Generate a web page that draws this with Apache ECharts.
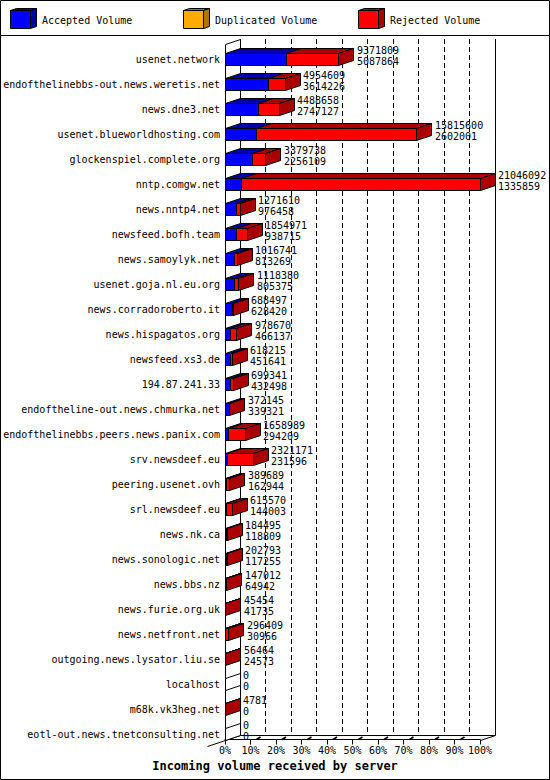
<!DOCTYPE html>
<html><head><meta charset="utf-8">
<script src="https://cdn.jsdelivr.net/npm/echarts@6/dist/echarts.min.js"></script>
<style>html,body{margin:0;padding:0;background:#fff}#c{width:550px;height:780px}</style>
</head><body><div id="c"></div>
<script>
const categories = [
  'usenet.network',
  'endofthelinebbs-out.news.weretis.net',
  'news.dne3.net',
  'usenet.blueworldhosting.com',
  'glockenspiel.complete.org',
  'nntp.comgw.net',
  'news.nntp4.net',
  'newsfeed.bofh.team',
  'news.samoylyk.net',
  'usenet.goja.nl.eu.org',
  'news.corradoroberto.it',
  'news.hispagatos.org',
  'newsfeed.xs3.de',
  '194.87.241.33',
  'endoftheline-out.news.chmurka.net',
  'endofthelinebbs.peers.news.panix.com',
  'srv.newsdeef.eu',
  'peering.usenet.ovh',
  'srl.newsdeef.eu',
  'news.nk.ca',
  'news.sonologic.net',
  'news.bbs.nz',
  'news.furie.org.uk',
  'news.netfront.net',
  'outgoing.news.lysator.liu.se',
  'localhost',
  'm68k.vk3heg.net',
  'eotl-out.news.tnetconsulting.net'
];
const totalVolume = [9371809, 4954609, 4488658, 15815600, 3379738, 21046092, 1271610, 1854971, 1016741, 1118380, 688497, 978670, 618215, 699341, 372145, 1658989, 2321171, 389689, 615570, 184495, 202793, 147012, 45454, 296409, 56464, 0, 4781, 0];
const acceptedVolume = [5087864, 3614226, 2747127, 2602001, 2256109, 1335859, 976458, 938715, 813269, 805375, 628420, 466137, 451641, 432498, 339321, 294209, 231596, 162944, 144003, 118809, 117255, 64942, 41735, 30966, 24573, 0, 0, 0];
const duplicatedVolume = [0, 0, 0, 0, 0, 0, 0, 0, 0, 0, 0, 0, 0, 0, 0, 0, 0, 0, 0, 0, 0, 0, 0, 0, 0, 0, 0, 0];
const seriesNames = ['Accepted Volume', 'Duplicated Volume', 'Rejected Volume'];
const tickLabels = ['0%', '10%', '20%', '30%', '40%', '50%', '60%', '70%', '80%', '90%', '100%'];
const axisTitle = 'Incoming volume received by server';

const FONT = '"DejaVu Sans Mono", monospace';
const maxTotal = Math.max(...totalVolume);
const pct = v => v / maxTotal * 100;
const colors = { acc: ['#0000ff', '#0000aa'], dup: ['#ffaa00', '#aa7700'], rej: ['#ff0000', '#aa0000'] };

const accData = categories.map((c, i) => [0, pct(acceptedVolume[i]), i, pct(totalVolume[i])]);
const dupData = categories.map((c, i) => [pct(acceptedVolume[i]), pct(acceptedVolume[i] + duplicatedVolume[i]), i, pct(totalVolume[i])]);
const rejData = categories.map((c, i) => [pct(acceptedVolume[i] + duplicatedVolume[i]), pct(totalVolume[i]), i, pct(totalVolume[i])]);
const labelData = categories.map((c, i) => [pct(totalVolume[i]), i, totalVolume[i], acceptedVolume[i]]);

const DX = 15, DY = 5, HALF = 6;
const px = v => Math.round(v - 0.5) + 0.5;

function barRenderer(key, isFirst) {
  return function (params, api) {
    const s = api.value(0), e = api.value(1), idx = api.value(2), tot = api.value(3);
    const a = api.coord([s, idx]), b = api.coord([e, idx]);
    const x0 = px(a[0]), x1 = px(b[0]), y0 = px(a[1] - HALF), y1 = px(a[1] + HALF);
    const front = colors[key][0], dark = colors[key][1];
    const ch = [];
    const w = b[0] - a[0];
    if (w > 1e-6) {
      ch.push({ type: 'polygon', shape: { points: [[x0, y0], [x0 + DX, y0 - DY], [x1 + DX, y0 - DY], [x1, y0]] },
        style: { fill: dark, stroke: '#000', lineWidth: 1 } });
      ch.push({ type: 'rect', shape: { x: x0, y: y0, width: x1 - x0, height: y1 - y0 },
        style: { fill: front, stroke: '#000', lineWidth: 1 } });
    }
    const last = Math.abs(e - tot) < 1e-9 && (w > 1e-6 || (tot === 0 && isFirst));
    if (last) {
      ch.push({ type: 'polygon', shape: { points: [[x1, y0], [x1 + DX, y0 - DY], [x1 + DX, y1 - DY], [x1, y1]] },
        style: { fill: tot === 0 ? '#fff' : dark, stroke: '#000', lineWidth: 1 } });
    }
    return { type: 'group', children: ch };
  };
}

function labelRenderer(params, api) {
  const p = api.coord([api.value(0), api.value(1)]);
  const x = Math.round(p[0]) + DX + 3;
  const mk = (txt, y) => ({ type: 'text', x: x, y: y,
    style: { text: txt, fill: '#000', font: '10px ' + FONT, align: 'left', verticalAlign: 'middle', textAlign: 'left', textVerticalAlign: 'middle' } });
  return { type: 'group', children: [mk(String(api.value(2)), p[1] - 9), mk(String(api.value(3)), p[1] + 2)] };
}

const chart = echarts.init(document.getElementById('c'), null, { renderer: 'svg', width: 550, height: 780 });

const option = {
  animation: false,
  backgroundColor: '#fff',
  title: { text: axisTitle, left: 'center', top: 760, padding: 0,
    textStyle: { fontFamily: FONT, fontSize: 12, fontWeight: 'bold', color: '#000' } },
  grid: [
    { left: 225, right: 70, top: 59, bottom: 46 },
    { left: 240, right: 55, top: 39, bottom: 45.5 }
  ],
  xAxis: [
    { type: 'value', gridIndex: 0, min: 0, max: 100, interval: 10, offset: 5.5,
      axisLine: { show: true, lineStyle: { color: '#000', width: 1 } },
      axisTick: { show: true, length: 5, lineStyle: { color: '#000' } },
      axisLabel: { margin: 6, fontFamily: FONT, fontSize: 10, color: '#000', formatter: v => tickLabels[Math.round(v / 10)] },
      splitLine: { show: false } },
    { type: 'value', gridIndex: 1, min: 0, max: 100, interval: 10,
      axisLine: { show: false }, axisTick: { show: false }, axisLabel: { show: false },
      splitLine: { show: true, lineStyle: { color: '#000', width: 1, type: [5, 3] } } }
  ],
  yAxis: [
    { type: 'category', gridIndex: 0, data: categories, inverse: true, boundaryGap: false,
      axisLine: { show: false }, axisTick: { show: false },
      axisLabel: { margin: 5, fontFamily: FONT, fontSize: 10, color: '#000', interval: 0 },
      splitLine: { show: false } },
    { type: 'value', gridIndex: 1, show: false, splitLine: { show: false } }
  ],
  series: [
    { name: seriesNames[0], type: 'custom', xAxisIndex: 0, yAxisIndex: 0, data: accData,
      encode: { x: [0, 1], y: 2 }, renderItem: barRenderer('acc', true), z: 2 },
    { name: seriesNames[1], type: 'custom', xAxisIndex: 0, yAxisIndex: 0, data: dupData,
      encode: { x: [0, 1], y: 2 }, renderItem: barRenderer('dup', false), z: 2 },
    { name: seriesNames[2], type: 'custom', xAxisIndex: 0, yAxisIndex: 0, data: rejData,
      encode: { x: [0, 1], y: 2 }, renderItem: barRenderer('rej', false), z: 2 },
    { name: 'labels', type: 'custom', xAxisIndex: 0, yAxisIndex: 0, data: labelData,
      encode: { x: 0, y: 1 }, renderItem: labelRenderer, z: 3, silent: true }
  ]
};
chart.setOption(option);

// frame / 3D decoration positioned from the axes
const X = v => chart.convertToPixel({ xAxisIndex: 0 }, v);
const Y = i => chart.convertToPixel({ yAxisIndex: 0 }, categories[i]);
const xL = px(X(0)), xR = px(X(100));
const floorY = px(Y(categories.length - 1) + HALF);
const topY = px(Y(0) - 15);
const line = (x1, y1, x2, y2, extra) => Object.assign({ type: 'line', shape: { x1, y1, x2, y2 },
  style: { stroke: '#000', lineWidth: 1 }, z: 1 }, extra || {});

const g = [];
g.push({ type: 'rect', shape: { x: 0.5, y: 0.5, width: 549, height: 779 }, style: { fill: 'none', stroke: '#000', lineWidth: 1 }, z: 5 });
g.push(line(0, 35.5, 550, 35.5, { z: 5 }));
// legend
const legendX = [10, 183, 358];
const legendKeys = ['acc', 'dup', 'rej'];
legendKeys.forEach((k, i) => {
  const x = legendX[i] + 0.5, y = 10.5;
  g.push({ type: 'polygon', shape: { points: [[x, y], [x + 6, y - 2], [x + 26, y - 2], [x + 20, y]] }, style: { fill: colors[k][1], stroke: '#000', lineWidth: 1 }, z: 5 });
  g.push({ type: 'polygon', shape: { points: [[x + 20, y], [x + 26, y - 2], [x + 26, y + 16], [x + 20, y + 18]] }, style: { fill: colors[k][1], stroke: '#000', lineWidth: 1 }, z: 5 });
  g.push({ type: 'rect', shape: { x: x, y: y, width: 20, height: 18 }, style: { fill: colors[k][0], stroke: '#000', lineWidth: 1 }, z: 5 });
  g.push({ type: 'text', x: legendX[i] + 32, y: 20, style: { text: seriesNames[i], fill: '#000', font: '10px ' + FONT, verticalAlign: 'middle', textVerticalAlign: 'middle' }, z: 5 });
});
// left wall
g.push({ type: 'polygon', shape: { points: [[xL, topY], [xL + DX, topY - DY], [xL + DX, floorY - DY], [xL, floorY]] },
  style: { fill: '#fff', stroke: '#000', lineWidth: 1 }, z: 1 });
// back right edge and floor
g.push(line(xR + DX, topY - DY, xR + DX, floorY - DY));
g.push(line(xL + DX, floorY - DY, xR + DX, floorY - DY));
g.push(line(xR, floorY, xR + DX, floorY - DY));
g.push(line(xL - 18, floorY + 6, xL, floorY));
for (let v = 10; v <= 90; v += 10) {
  const fx = X(v);
  g.push(line(fx + 6, floorY - 1, fx + 10, floorY - 3.5, { style: { stroke: '#000', lineWidth: 1.6 } }));
}
chart.setOption({ graphic: g });
</script>
</body></html>
